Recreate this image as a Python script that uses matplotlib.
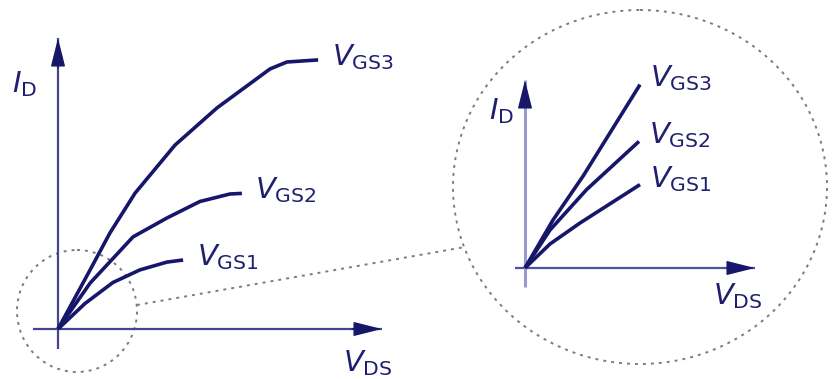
import numpy as np
import matplotlib
matplotlib.use("Agg")
from matplotlib import pyplot as plt
from matplotlib.patches import Ellipse

# left panel: full I_D-V_DS curves (arbitrary units)
vds_gs1 = [0, 0.90, 1.83, 2.73, 3.63, 4.17]
id_gs1 = [0, 0.85, 1.55, 1.97, 2.23, 2.30]
vds_gs2 = [0, 1.07, 2.50, 3.63, 4.73, 5.73, 6.13]
id_gs2 = [0, 1.53, 3.07, 3.70, 4.25, 4.50, 4.52]
vds_gs3 = [0, 1.07, 1.73, 2.57, 3.90, 5.30, 7.07, 7.63, 8.67]
id_gs3 = [0, 1.97, 3.20, 4.53, 6.13, 7.37, 8.67, 8.90, 8.97]

# right panel: zoom on the small-V_DS region (nearly linear)
vds_z1 = [0, 1.25, 2.75, 5.75]
id_z1 = [0, 1.20, 2.25, 4.17]
vds_z2 = [0, 1.25, 3.08, 5.70]
id_z2 = [0, 1.90, 3.92, 6.33]
vds_z3 = [0, 1.40, 2.92, 5.75]
id_z3 = [0, 2.40, 4.62, 9.17]

labels = ["GS1", "GS2", "GS3"]

navy = "#16166a"
axcol = "#45458f"
txtcol = "#1f1f70"
dotcol = "#7a7a8c"

fig = plt.figure(figsize=(8.38, 3.79), dpi=100)

# overlay in pixel coords for the magnifier decorations
ax0 = fig.add_axes([0, 0, 1, 1])
ax0.set_xlim(0, 838)
ax0.set_ylim(379, 0)
ax0.axis("off")
dots = (0, (1.5, 2.6))
ax0.add_patch(Ellipse((77, 311), 120, 122, fill=False, ec=dotcol, lw=1.4, ls=dots))
ax0.add_patch(Ellipse((640, 187), 374, 354, fill=False, ec=dotcol, lw=1.4, ls=dots))
ax0.plot([137, 465], [305, 247], color=dotcol, lw=1.4, ls=dots)


def axis_arrow(ax, start, tip, color, lw, hl):
    ax.plot([start[0], tip[0]], [start[1], tip[1]], color=color, lw=lw, solid_capstyle="butt")
    back = (tip[0] - hl * (tip[0] != start[0]), tip[1] - hl * (tip[1] != start[1]))
    ax.annotate("", xy=tip, xytext=back,
                arrowprops=dict(arrowstyle="-|>,head_length=1.2,head_width=0.3",
                                color=navy, lw=1.0, shrinkA=0, shrinkB=0,
                                mutation_scale=15))


# left panel, 30 px per unit, origin at (58, 329)
axl = fig.add_axes([0, 0, 1, 1])
axl.patch.set_alpha(0)
axl.set_xlim(-58 / 30, (838 - 58) / 30)
axl.set_ylim(-(379 - 329) / 30, 329 / 30)
axl.axis("off")
axis_arrow(axl, (-0.83, 0), (10.8, 0), axcol, 1.6, 1.0)
axis_arrow(axl, (0, -0.65), (0, 9.7), axcol, 1.6, 1.0)
for x, y in [(vds_gs1, id_gs1), (vds_gs2, id_gs2), (vds_gs3, id_gs3)]:
    axl.plot(x, y, color=navy, lw=2.6, solid_capstyle="butt", solid_joinstyle="round")
for x, y, lab in [(vds_gs1, id_gs1, labels[0]), (vds_gs2, id_gs2, labels[1]), (vds_gs3, id_gs3, labels[2])]:
    axl.text(x[-1] + 0.45, y[-1] + 0.1, r"$V_{\mathrm{%s}}$" % lab, fontsize=21,
             color=txtcol, va="center", ha="left")
axl.text(-1.55, 8.15, r"$I_{\mathrm{D}}$", fontsize=21, color=txtcol, va="center")
axl.text(9.5, -1.15, r"$V_{\mathrm{DS}}$", fontsize=21, color=txtcol, va="center")

# right panel, 20 px per unit, origin at (525, 268)
axr = fig.add_axes([0, 0, 1, 1])
axr.patch.set_alpha(0)
axr.set_xlim(-525 / 20, (838 - 525) / 20)
axr.set_ylim(-(379 - 268) / 20, 268 / 20)
axr.axis("off")
axis_arrow(axr, (-0.5, 0), (11.5, 0), "#5050a0", 1.6, 1.2)
axis_arrow(axr, (0, -0.95), (0, 9.4), "#9a9ad0", 2.2, 1.2)
for x, y in [(vds_z1, id_z1), (vds_z2, id_z2), (vds_z3, id_z3)]:
    axr.plot(x, y, color=navy, lw=2.6, solid_capstyle="butt", solid_joinstyle="round")
for x, y, lab in [(vds_z1, id_z1, labels[0]), (vds_z2, id_z2, labels[1]), (vds_z3, id_z3, labels[2])]:
    axr.text(x[-1] + 0.5, y[-1] + 0.3, r"$V_{\mathrm{%s}}$" % lab, fontsize=21,
             color=txtcol, va="center", ha="left")
axr.text(-1.8, 7.85, r"$I_{\mathrm{D}}$", fontsize=21, color=txtcol, va="center")
axr.text(9.4, -1.4, r"$V_{\mathrm{DS}}$", fontsize=21, color=txtcol, va="center")

fig.savefig("out.png", dpi=100)
